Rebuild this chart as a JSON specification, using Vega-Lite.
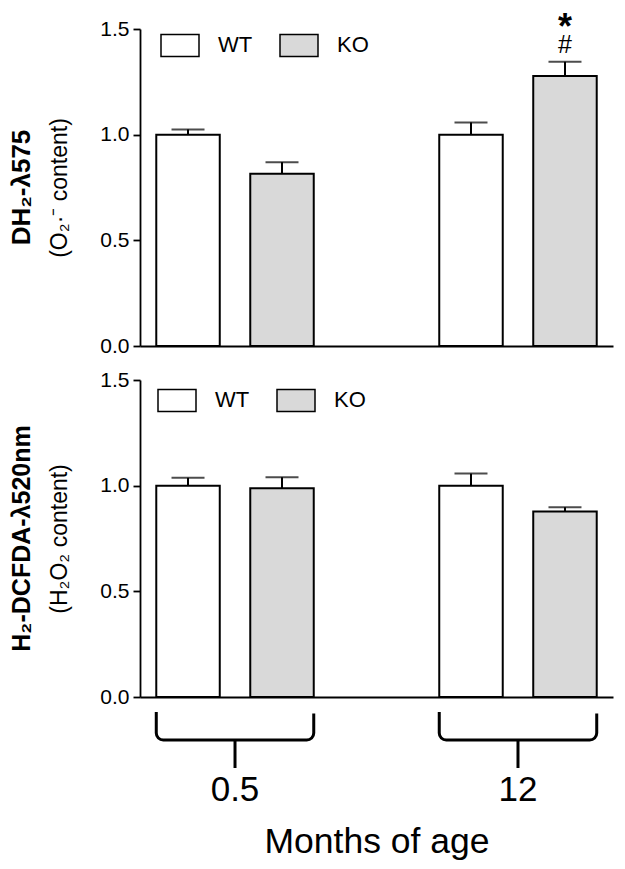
{
  "$schema": "https://vega.github.io/schema/vega-lite/v6.json",
  "background": "white",
  "padding": {"left": 8, "top": 9, "right": 8, "bottom": 4},
  "config": {
    "font": "Liberation Sans",
    "view": {"stroke": null},
    "axis": {
      "domainColor": "black", "tickColor": "black", "labelColor": "black", "titleColor": "black",
      "domainWidth": 1.8, "tickWidth": 1.8, "grid": false,
      "labelFont": "Liberation Sans", "titleFont": "Liberation Sans", "titleFontWeight": "normal"
    },
    "axisY": {"labelFontSize": 21, "tickSize": 7, "labelPadding": 4, "titleFontSize": 23, "titlePadding": 28},
    "title": {"font": "Liberation Sans", "color": "black"},
    "legend": {
      "orient": "none", "direction": "horizontal", "title": null, "padding": 0,
      "symbolType": "M-1,-0.58H1V0.58H-1Z", "symbolSize": 1444,
      "symbolStrokeColor": "black", "symbolStrokeWidth": 1.5,
      "labelFont": "Liberation Sans", "labelFontSize": 22, "labelColor": "black",
      "labelOffset": 18, "columnPadding": 24, "labelLimit": 200
    }
  },
  "datasets": {
    "dh2": [
      {"age": "0.5", "genotype": "WT", "mean": 1.0, "upper": 1.025},
      {"age": "0.5", "genotype": "KO", "mean": 0.815, "upper": 0.87},
      {"age": "12", "genotype": "WT", "mean": 1.0, "upper": 1.058},
      {"age": "12", "genotype": "KO", "mean": 1.278, "upper": 1.345, "hash": "#", "star": "*"}
    ],
    "dcfda": [
      {"age": "0.5", "genotype": "WT", "mean": 1.0, "upper": 1.037},
      {"age": "0.5", "genotype": "KO", "mean": 0.988, "upper": 1.04},
      {"age": "12", "genotype": "WT", "mean": 1.0, "upper": 1.057},
      {"age": "12", "genotype": "KO", "mean": 0.878, "upper": 0.898}
    ],
    "ages": [{"age": "0.5"}, {"age": "12"}]
  },
  "spacing": 13,
  "resolve": {"legend": {"fill": "independent"}, "scale": {"fill": "independent"}},
  "vconcat": [
    {
      "width": 473, "height": 317,
      "title": {"text": "DH₂-λ575", "orient": "left", "fontSize": 26, "fontWeight": "bold", "offset": 14},
      "data": {"name": "dh2"},
      "layer": [
        {
          "mark": {"type": "bar", "stroke": "black", "strokeWidth": 2},
          "encoding": {
            "x": {"field": "age", "type": "nominal", "sort": ["0.5", "12"], "scale": {"paddingInner": 0.4435, "paddingOuter": 0.0575}, "axis": {"labels": false, "ticks": false, "title": null}},
            "xOffset": {"field": "genotype", "type": "nominal", "sort": ["WT", "KO"], "scale": {"paddingInner": 0.3245, "paddingOuter": 0}},
            "y": {"field": "mean", "type": "quantitative", "scale": {"domain": [0, 1.5], "nice": false}, "axis": {"title": "(O₂·⁻ content)", "values": [0, 0.5, 1, 1.5], "format": ".1f"}},
            "fill": {"field": "genotype", "type": "nominal", "sort": ["WT", "KO"], "scale": {"domain": ["WT", "KO"], "range": ["white", "#d9d9d9"]}, "legend": {"legendX": 20, "legendY": -4}}
          }
        },
        {
          "mark": {"type": "rule", "stroke": "black", "strokeWidth": 2},
          "encoding": {
            "x": {"field": "age", "type": "nominal", "sort": ["0.5", "12"]},
            "xOffset": {"field": "genotype", "type": "nominal", "sort": ["WT", "KO"]},
            "y": {"field": "mean", "type": "quantitative"},
            "y2": {"field": "upper"}
          }
        },
        {
          "mark": {"type": "tick", "color": "black", "size": 33, "thickness": 2},
          "encoding": {
            "x": {"field": "age", "type": "nominal", "sort": ["0.5", "12"]},
            "xOffset": {"field": "genotype", "type": "nominal", "sort": ["WT", "KO"]},
            "y": {"field": "upper", "type": "quantitative"}
          }
        },
        {
          "transform": [{"filter": "datum.hash"}],
          "mark": {"type": "text", "fontSize": 25, "baseline": "alphabetic", "dy": -9, "color": "black"},
          "encoding": {
            "x": {"field": "age", "type": "nominal", "sort": ["0.5", "12"]},
            "xOffset": {"field": "genotype", "type": "nominal", "sort": ["WT", "KO"]},
            "y": {"field": "upper", "type": "quantitative"},
            "text": {"field": "hash"}
          }
        },
        {
          "transform": [{"filter": "datum.star"}],
          "mark": {"type": "text", "fontSize": 36, "fontWeight": "bold", "baseline": "alphabetic", "dy": -23, "color": "black"},
          "encoding": {
            "x": {"field": "age", "type": "nominal", "sort": ["0.5", "12"]},
            "xOffset": {"field": "genotype", "type": "nominal", "sort": ["WT", "KO"]},
            "y": {"field": "upper", "type": "quantitative"},
            "text": {"field": "star"}
          }
        }
      ]
    },
    {
      "width": 473, "height": 317,
      "title": {"text": "H₂-DCFDA-λ520nm", "orient": "left", "fontSize": 25, "fontWeight": "bold", "offset": 14},
      "layer": [
        {
          "data": {"name": "dcfda"},
          "mark": {"type": "bar", "stroke": "black", "strokeWidth": 2},
          "encoding": {
            "x": {"field": "age", "type": "nominal", "sort": ["0.5", "12"], "scale": {"paddingInner": 0.4435, "paddingOuter": 0.0575},
                  "axis": {"ticks": false, "tickSize": 0, "labelFontSize": 35, "labelPadding": 75, "labelAngle": 0, "title": "Months of age", "titleFontSize": 35.5, "titlePadding": 17}},
            "xOffset": {"field": "genotype", "type": "nominal", "sort": ["WT", "KO"], "scale": {"paddingInner": 0.3245, "paddingOuter": 0}},
            "y": {"field": "mean", "type": "quantitative", "scale": {"domain": [0, 1.5], "nice": false}, "axis": {"title": "(H₂O₂ content)", "values": [0, 0.5, 1, 1.5], "format": ".1f"}},
            "fill": {"field": "genotype", "type": "nominal", "sort": ["WT", "KO"], "scale": {"domain": ["WT", "KO"], "range": ["white", "#d9d9d9"]}, "legend": {"legendX": 17, "legendY": 0}}
          }
        },
        {
          "data": {"name": "dcfda"},
          "mark": {"type": "rule", "stroke": "black", "strokeWidth": 2},
          "encoding": {
            "x": {"field": "age", "type": "nominal", "sort": ["0.5", "12"]},
            "xOffset": {"field": "genotype", "type": "nominal", "sort": ["WT", "KO"]},
            "y": {"field": "mean", "type": "quantitative"},
            "y2": {"field": "upper"}
          }
        },
        {
          "data": {"name": "dcfda"},
          "mark": {"type": "tick", "color": "black", "size": 33, "thickness": 2},
          "encoding": {
            "x": {"field": "age", "type": "nominal", "sort": ["0.5", "12"]},
            "xOffset": {"field": "genotype", "type": "nominal", "sort": ["WT", "KO"]},
            "y": {"field": "upper", "type": "quantitative"}
          }
        },
        {
          "data": {"name": "ages"},
          "mark": {"type": "bar", "fillOpacity": 0, "fill": "white", "stroke": "black", "strokeWidth": 3, "cornerRadiusBottomLeft": 7, "cornerRadiusBottomRight": 7, "strokeDash": [0, 159, 1000, 0]},
          "encoding": {
            "x": {"field": "age", "type": "nominal", "sort": ["0.5", "12"]},
            "y": {"datum": -0.071},
            "y2": {"datum": -0.204}
          }
        },
        {
          "data": {"name": "ages"},
          "mark": {"type": "rule", "stroke": "black", "strokeWidth": 3},
          "encoding": {
            "x": {"field": "age", "type": "nominal", "sort": ["0.5", "12"]},
            "y": {"datum": -0.204},
            "y2": {"datum": -0.336}
          }
        }
      ]
    }
  ]
}
